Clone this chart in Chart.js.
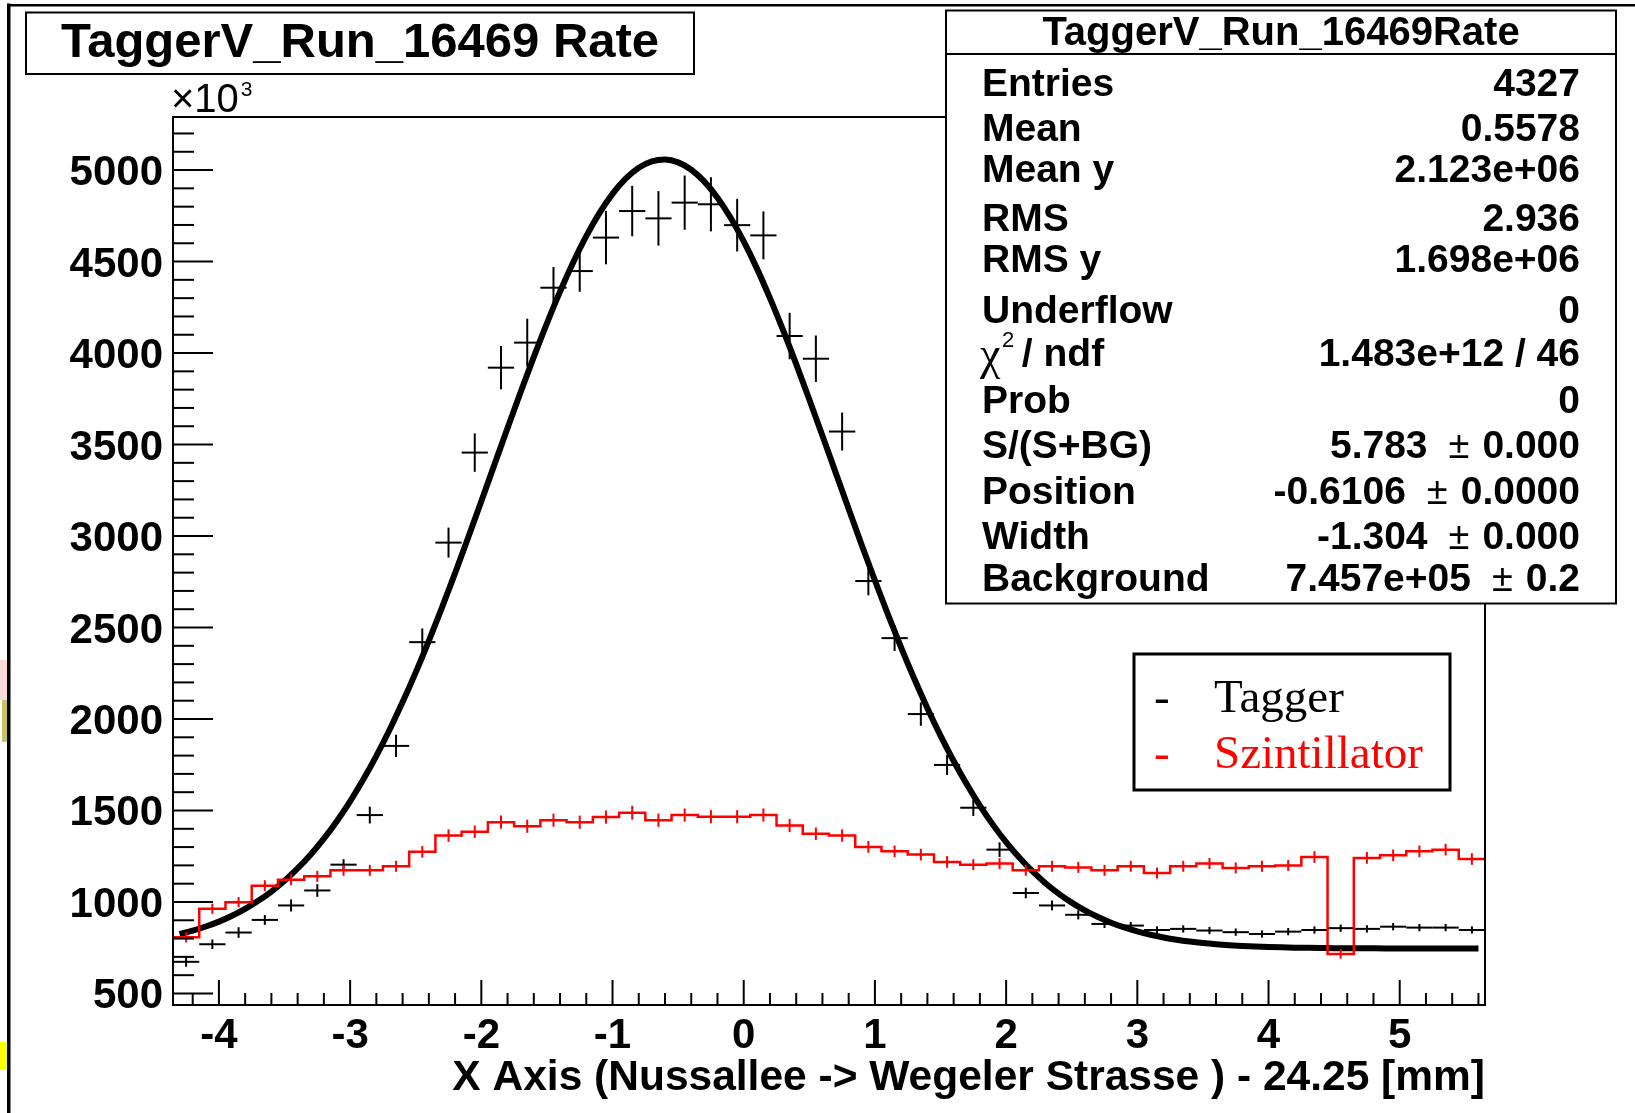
<!DOCTYPE html>
<html><head><meta charset="utf-8">
<script src="https://cdn.jsdelivr.net/npm/chart.js@4.4.0/dist/chart.umd.min.js"></script>
<style>html,body{margin:0;padding:0;background:#fff;overflow:hidden}#wrap{position:relative;width:1635px;height:1113px}</style>
</head><body><div id="wrap"><canvas id="c" width="1635" height="1113"></canvas></div>
<script>
// ---------------- data ----------------
const binCenters = [-4.25,-4.05,-3.85,-3.65,-3.45,-3.25,-3.05,-2.85,-2.65,-2.45,-2.25,-2.05,-1.85,-1.65,-1.45,-1.25,-1.05,-0.85,-0.65,-0.45,-0.25,-0.05,0.15,0.35,0.55,0.75,0.95,1.15,1.35,1.55,1.75,1.95,2.15,2.35,2.55,2.75,2.95,3.15,3.35,3.55,3.75,3.95,4.15,4.35,4.55,4.75,4.95,5.15,5.35,5.55];
const binHalfWidth = 0.1;
const taggerRate = [673,769,833,902,981,1063,1204,1475,1853,2420,2964,3456,3920,4057,4357,4448,4631,4776,4736,4822,4813,4699,4643,4093,3969,3571,2754,2442,2027,1749,1515,1286,1049,981,930,880,871,847,853,844,835,825,838,847,857,853,865,860,860,847];
const taggerErr = [27,26,29,27,33,35,30,46,61,75,82,105,118,131,113,113,146,138,149,148,148,144,131,127,127,104,78,70,64,55,45,40,29,27,25,22,20,20,20,20,20,20,20,20,20,20,20,20,20,20];
const szintRate = [807,963,999,1089,1122,1140,1173,1173,1195,1274,1363,1384,1436,1414,1447,1436,1464,1488,1447,1475,1466,1466,1475,1418,1373,1363,1301,1277,1259,1219,1204,1210,1173,1195,1189,1173,1195,1159,1195,1210,1186,1195,1200,1246,716,1241,1255,1277,1286,1235];
const szintErr = [28,28,28,30,30,30,30,30,30,32,34,34,36,36,36,36,36,38,36,36,36,36,36,36,34,34,32,32,32,32,30,30,30,30,30,30,30,30,30,30,30,30,30,32,26,32,32,32,32,32];
const fitX = [-4.3,-4.2,-4.1,-4.0,-3.9,-3.8,-3.7,-3.6,-3.5,-3.4,-3.3,-3.2,-3.1,-3.0,-2.9,-2.8,-2.7,-2.6,-2.5,-2.4,-2.3,-2.2,-2.1,-2.0,-1.9,-1.8,-1.7,-1.6,-1.5,-1.4,-1.3,-1.2,-1.1,-1.0,-0.9,-0.8,-0.7,-0.6,-0.5,-0.4,-0.3,-0.2,-0.1,0.0,0.1,0.2,0.3,0.4,0.5,0.6,0.7,0.8,0.9,1.0,1.1,1.2,1.3,1.4,1.5,1.6,1.7,1.8,1.9,2.0,2.1,2.2,2.3,2.4,2.5,2.6,2.7,2.8,2.9,3.0,3.1,3.2,3.3,3.4,3.5,3.6,3.7,3.8,3.9,4.0,4.1,4.2,4.3,4.4,4.5,4.6,4.7,4.8,4.9,5.0,5.1,5.2,5.3,5.4,5.5,5.6];
const fitY = [824.5,843.3,865.9,892.7,924.7,962.3,1006.2,1057.2,1116.0,1183.2,1259.8,1346.2,1442.8,1550.4,1669.0,1799.0,1940.2,2092.3,2255.0,2427.6,2608.6,2797.2,2991.6,3190.0,3390.5,3590.3,3787.4,3979.3,4162.7,4335.8,4495.3,4639.0,4764.5,4869.7,4952.8,5012.4,5047.6,5057.6,5042.2,5001.8,4937.1,4849.2,4739.5,4609.9,4462.7,4300.1,4124.8,3939.2,3746.1,3548.2,3347.8,3147.7,2950.0,2756.7,2569.7,2390.3,2219.7,2059.2,1909.4,1770.5,1643.0,1526.7,1421.4,1327.0,1242.7,1168.2,1102.8,1045.8,996.4,953.8,917.5,886.7,860.7,839.0,820.9,806.0,793.7,783.8,775.7,769.2,764.0,759.8,756.6,754.0,752.0,750.5,749.3,748.4,747.7,747.2,746.8,746.5,746.2,746.1,745.9,745.8,745.8,745.7,745.7,745.7];
const yTickValues = [500,1000,1500,2000,2500,3000,3500,4000,4500,5000];
const xTickValues = [-4,-3,-2,-1,0,1,2,3,4,5];
const titleText = "TaggerV_Run_16469 Rate";
const statsTitle = "TaggerV_Run_16469Rate";
const statsLabels = ["Entries","Mean","Mean y","RMS","RMS y","Underflow","CHI","Prob","S/(S+BG)","Position","Width","Background"];
const statsValues = [["4327"],["0.5578"],["2.123e+06"],["2.936"],["1.698e+06"],["0"],["1.483e+12 / 46"],["0"],["5.783","0.000"],["-0.6106","0.0000"],["-1.304","0.000"],["7.457e+05","0.2"]];
const legendNames = ["Tagger","Szintillator"];
const legendColors = ["#000000","#ff0000"];
const xAxisTitle = "X Axis (Nussallee -> Wegeler Strasse ) - 24.25 [mm]";

// ---------------- helpers ----------------
const SANS = '"Liberation Sans", Arial, sans-serif';
const SERIF = '"Liberation Serif", "Times New Roman", serif';

const szintSteps = [];
binCenters.forEach((c, i) => {
  szintSteps.push({x: c - binHalfWidth, y: szintRate[i]});
  szintSteps.push({x: c + binHalfWidth, y: szintRate[i]});
});
const fitPoints = fitX.map((x, i) => ({x: x, y: fitY[i]}));
const taggerPoints = binCenters.map((x, i) => ({x: x, y: taggerRate[i]}));

function line(ctx, x1, y1, x2, y2) { ctx.beginPath(); ctx.moveTo(x1, y1); ctx.lineTo(x2, y2); ctx.stroke(); }

const decor = {
  id: 'decor',
  beforeDraw(chart) {
    const ctx = chart.ctx;
    ctx.save();
    ctx.fillStyle = '#fff';
    ctx.fillRect(0, 0, chart.width, chart.height);
    // stray artefacts on the left border
    ctx.fillStyle = 'rgba(235,150,150,0.35)'; ctx.fillRect(0, 660, 7, 40);
    ctx.fillStyle = 'rgba(190,180,60,0.8)'; ctx.fillRect(2, 700, 5, 42);
    ctx.fillStyle = '#ffff00'; ctx.fillRect(0, 1042, 7, 28);
    // outer pad border
    ctx.strokeStyle = '#000';
    ctx.lineWidth = 3.5; line(ctx, 8.75, 3.5, 8.75, chart.height);
    ctx.lineWidth = 2.5; line(ctx, 7, 5.2, chart.width, 5.2);
    ctx.restore();
  },
  beforeDatasetsDraw(chart) {
    const ctx = chart.ctx, xs = chart.scales.x, ys = chart.scales.y, a = chart.chartArea;
    ctx.save();
    ctx.beginPath(); ctx.rect(a.left, a.top, a.right - a.left, a.bottom - a.top); ctx.clip();
    ctx.strokeStyle = '#000'; ctx.lineWidth = 2;
    binCenters.forEach((c, i) => {
      const x0 = xs.getPixelForValue(c - binHalfWidth), x1 = xs.getPixelForValue(c + binHalfWidth);
      const xc = xs.getPixelForValue(c), yc = ys.getPixelForValue(taggerRate[i]);
      line(ctx, x0, yc, x1, yc);
      line(ctx, xc, ys.getPixelForValue(taggerRate[i] + taggerErr[i]), xc, ys.getPixelForValue(taggerRate[i] - taggerErr[i]));
    });
    ctx.restore();
  },
  afterDatasetsDraw(chart) {
    const ctx = chart.ctx, xs = chart.scales.x, ys = chart.scales.y, a = chart.chartArea;
    ctx.save();
    // red error bars
    ctx.strokeStyle = '#ff0000'; ctx.lineWidth = 2;
    binCenters.forEach((c, i) => {
      const xc = xs.getPixelForValue(c);
      line(ctx, xc, ys.getPixelForValue(szintRate[i] + szintErr[i]), xc, ys.getPixelForValue(szintRate[i] - szintErr[i]));
    });
    // frame
    ctx.strokeStyle = '#000'; ctx.lineWidth = 2;
    ctx.strokeRect(a.left, a.top, a.right - a.left, a.bottom - a.top);
    // y ticks (inside, left)
    for (let v = 500; v <= 5200; v += 100) {
      const y = ys.getPixelForValue(v);
      const major = yTickValues.includes(v);
      line(ctx, a.left, y, a.left + (major ? 40 : 21), y);
    }
    // x ticks (inside, bottom)
    for (let k = -21; k <= 28; k++) {
      const v = k * 0.2;
      const x = xs.getPixelForValue(v);
      const major = (k % 5 === 0);
      line(ctx, x, a.bottom, x, a.bottom - (major ? 25 : 12));
    }
    // tick labels
    ctx.fillStyle = '#000';
    ctx.font = 'bold 42px ' + SANS;
    ctx.textAlign = 'right'; ctx.textBaseline = 'alphabetic';
    yTickValues.forEach(v => ctx.fillText(String(v), 163, ys.getPixelForValue(v) + 15));
    ctx.textAlign = 'center';
    xTickValues.forEach(v => ctx.fillText(String(v), xs.getPixelForValue(v), 1048));
    // axis title
    ctx.textAlign = 'right';
    ctx.font = 'bold 42.5px ' + SANS;
    ctx.fillText(xAxisTitle, a.right, 1090);
    // x10^3
    ctx.textAlign = 'left';
    ctx.font = '40px ' + SANS; ctx.fillText('\u00d710', 171, 112);
    const w10 = ctx.measureText('\u00d710').width;
    ctx.font = '21px ' + SANS; ctx.fillText('3', 171 + w10 + 2, 96);
    ctx.restore();
  },
  afterDraw(chart) {
    const ctx = chart.ctx;
    ctx.save();
    ctx.strokeStyle = '#000'; ctx.fillStyle = '#fff';
    // title box
    ctx.fillRect(26, 12.5, 668, 61.5);
    ctx.lineWidth = 2; ctx.strokeRect(26, 12.5, 668, 61.5);
    ctx.fillStyle = '#000'; ctx.textAlign = 'center'; ctx.textBaseline = 'alphabetic';
    ctx.font = 'bold 49px ' + SANS; ctx.fillText(titleText, 360, 57);
    // stats box
    ctx.fillStyle = '#fff'; ctx.fillRect(946, 10.5, 670, 593);
    ctx.lineWidth = 2; ctx.strokeRect(946, 10.5, 670, 593);
    line(ctx, 946, 54, 1616, 54);
    ctx.fillStyle = '#000';
    ctx.font = 'bold 40px ' + SANS; ctx.fillText(statsTitle, 1281, 45);
    const baselines = [96, 141, 182, 231, 272, 323, 366, 413, 458, 504, 549, 591];
    const lx = 982, rx = 1580;
    statsLabels.forEach((lab, i) => {
      const by = baselines[i];
      ctx.textAlign = 'left';
      if (lab === 'CHI') {
        ctx.font = '46px ' + SERIF; ctx.fillText('\u03c7', lx - 2, by + 3);
        ctx.font = '22px ' + SANS; ctx.fillText('2', lx + 20, by - 19);
        ctx.font = 'bold 39px ' + SANS; ctx.fillText(' / ndf', lx + 29, by);
      } else {
        ctx.font = 'bold 39px ' + SANS; ctx.fillText(lab, lx, by);
      }
      const vals = statsValues[i];
      ctx.textAlign = 'right';
      ctx.font = 'bold 39px ' + SANS;
      if (vals.length === 1) {
        ctx.fillText(vals[0], rx, by);
      } else {
        ctx.fillText(vals[1], rx, by);
        const w1 = ctx.measureText(vals[1]).width;
        const pmRight = rx - w1 - 13;
        ctx.font = '38px ' + SANS; ctx.fillText('\u00b1', pmRight, by);
        const wpm = ctx.measureText('\u00b1').width;
        ctx.font = 'bold 39px ' + SANS; ctx.fillText(vals[0], pmRight - wpm - 21, by);
      }
    });
    // legend box
    ctx.fillStyle = '#fff'; ctx.fillRect(1134, 654, 316, 136);
    ctx.lineWidth = 3; ctx.strokeRect(1134, 654, 316, 136);
    ctx.textAlign = 'left'; ctx.font = '47px ' + SERIF;
    const lb = [712, 768];
    legendNames.forEach((n, i) => {
      ctx.fillStyle = legendColors[i];
      ctx.fillText('-', 1154, lb[i]);
      ctx.fillText(n, 1214, lb[i]);
    });
    ctx.restore();
  }
};

new Chart(document.getElementById('c'), {
  type: 'scatter',
  data: {
    datasets: [
      { label: 'Tagger', data: taggerPoints, showLine: false, pointRadius: 0, order: 3 },
      { label: 'Fit', type: 'line', data: fitPoints, borderColor: '#000', borderWidth: 6, pointRadius: 0,
        cubicInterpolationMode: 'monotone', fill: false, order: 2 },
      { label: 'Szintillator', type: 'line', data: szintSteps, borderColor: '#ff0000', borderWidth: 2.5,
        pointRadius: 0, tension: 0, fill: false, order: 1 }
    ]
  },
  options: {
    responsive: false, animation: false, devicePixelRatio: 1,
    layout: { padding: { left: 173, top: 117, right: 150, bottom: 108 } },
    plugins: { legend: { display: false }, tooltip: { enabled: false }, title: { display: false } },
    scales: {
      x: { type: 'linear', min: -4.35, max: 5.65, display: false },
      y: { type: 'linear', min: 437, max: 5290, display: false }
    }
  },
  plugins: [decor]
});
</script>
</body></html>
